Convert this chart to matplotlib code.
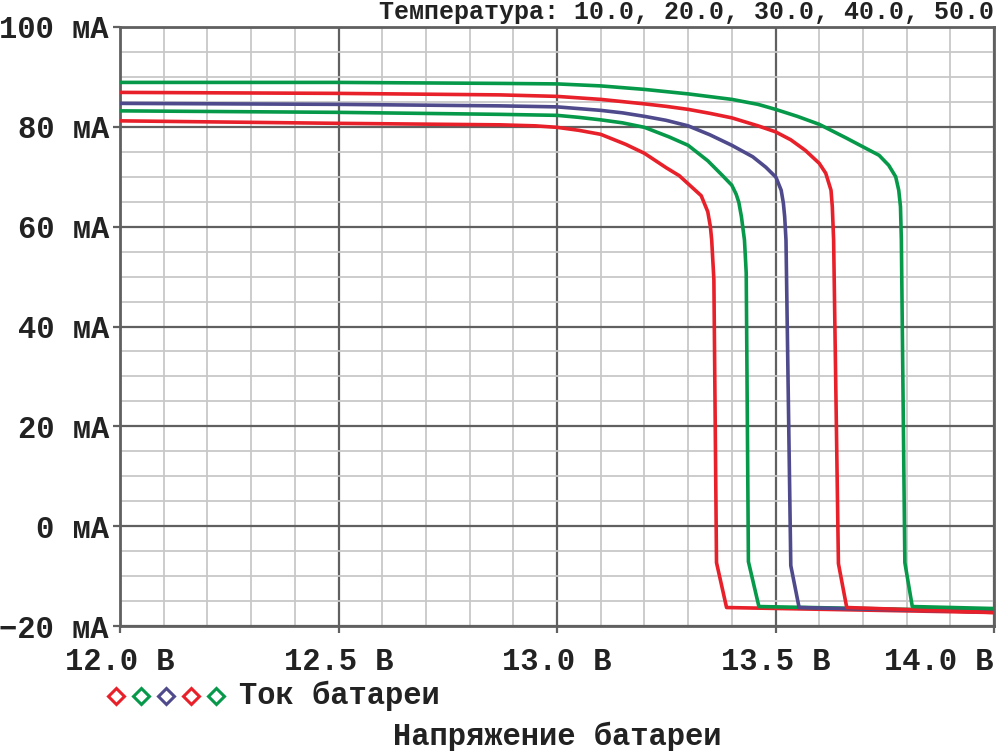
import matplotlib
matplotlib.use("Agg")
import matplotlib.pyplot as plt
from matplotlib.ticker import MultipleLocator, FixedLocator

plt.rcParams['font.family'] = ['Liberation Mono', 'DejaVu Sans Mono']

# ---- data ----
temperatures = [10.0, 20.0, 30.0, 40.0, 50.0]

v_t10 = [12.0, 12.5, 12.87, 12.95, 13.0, 13.05, 13.1, 13.157, 13.2, 13.25, 13.28, 13.305, 13.33, 13.345,
         13.351, 13.354, 13.359, 13.365, 13.388, 14.0]
i_t10 = [81.2, 80.7, 80.4, 80.2, 79.9, 79.3, 78.5, 76.5, 74.7, 71.8, 70.2, 68.2, 66.2, 63.0,
         60.0, 57.3, 49.4, -7.3, -16.3, -17.3]

v_t20 = [12.0, 12.5, 12.87, 13.0, 13.05, 13.1, 13.15, 13.2, 13.256, 13.3, 13.345, 13.378, 13.4, 13.41,
         13.416, 13.422, 13.426, 13.429, 13.433, 13.438, 13.462, 14.0]
i_t20 = [83.2, 82.9, 82.5, 82.3, 81.9, 81.4, 80.8, 79.9, 78.0, 76.3, 73.2, 70.3, 68.3, 66.5,
         64.9, 62.0, 59.3, 57.3, 50.7, -7.1, -16.1, -17.0]

v_t30 = [12.0, 12.5, 12.87, 13.0, 13.1, 13.15, 13.2, 13.25, 13.3, 13.35, 13.4, 13.448, 13.478, 13.501,
         13.513, 13.518, 13.521, 13.524, 13.535, 13.554, 14.0]
i_t30 = [84.7, 84.5, 84.2, 84.0, 83.3, 82.8, 82.1, 81.3, 80.2, 78.4, 76.3, 74.0, 71.9, 69.9,
         67.3, 64.7, 62.0, 57.3, -7.9, -16.3, -17.2]

v_t40 = [12.0, 12.5, 12.87, 13.0, 13.1, 13.2, 13.25, 13.3, 13.35, 13.4, 13.46, 13.5, 13.535, 13.568, 13.6,
         13.615, 13.627, 13.63, 13.633, 13.644, 13.663, 14.0]
i_t40 = [86.9, 86.7, 86.4, 86.1, 85.5, 84.6, 84.1, 83.5, 82.7, 81.8, 80.2, 79.0, 77.4, 75.3, 72.7,
         70.7, 67.3, 64.0, 57.3, -7.5, -16.3, -17.3]

v_t50 = [12.0, 12.5, 12.87, 13.0, 13.1, 13.2, 13.3, 13.4, 13.46, 13.5, 13.55, 13.6, 13.661,
         13.7, 13.737, 13.759, 13.775, 13.782, 13.786, 13.788, 13.796, 13.813, 14.0]
i_t50 = [88.9, 88.9, 88.7, 88.6, 88.2, 87.5, 86.6, 85.5, 84.5, 83.5, 82.1, 80.5, 77.8,
         76.0, 74.3, 72.3, 70.0, 67.3, 64.0, 57.3, -7.3, -16.1, -16.5]

x_ticks = [12.0, 12.5, 13.0, 13.5, 14.0]
x_tick_labels = ["12.0 В", "12.5 В", "13.0 В", "13.5 В", "14.0 В"]
y_ticks = [-20, 0, 20, 40, 60, 80, 100]
y_tick_labels = ["\u221220 мА", "0 мА", "20 мА", "40 мА", "60 мА", "80 мА", "100 мА"]

series_label = "Ток батареи"
x_label = "Напряжение батареи"
title_text = "Температура: " + ", ".join(f"{t:.1f}" for t in temperatures)

colors = ['#e8202a', '#07994a', '#4e4a8c', '#e8202a', '#07994a']

# ---- figure ----
W, H = 1000, 751
fig = plt.figure(figsize=(10, 7.51), dpi=100)
ax = fig.add_axes([120 / W, 1 - 626 / H, 874 / W, 599 / H])

curves = [(v_t10, i_t10), (v_t20, i_t20), (v_t30, i_t30), (v_t40, i_t40), (v_t50, i_t50)]
for (v, i), c in zip(curves, colors):
    ax.plot(v, i, color=c, lw=2.6, solid_joinstyle='round', solid_capstyle='round', zorder=3)

ax.set_xlim(12.0, 14.0)
ax.set_ylim(-20, 100)
ax.xaxis.set_major_locator(FixedLocator(x_ticks))
ax.yaxis.set_major_locator(FixedLocator(y_ticks))
ax.xaxis.set_minor_locator(MultipleLocator(0.1))
ax.yaxis.set_minor_locator(MultipleLocator(5))
ax.set_xticklabels(x_tick_labels)
ax.set_yticklabels(y_tick_labels)

ax.set_axisbelow(True)
ax.grid(which='minor', color='#c8c8c8', lw=1.3)
ax.grid(which='major', color='#606060', lw=1.6)
for s in ax.spines.values():
    s.set_color('#606060')
    s.set_linewidth(2.0)

ax.tick_params(which='major', direction='out', length=5, width=1.6, color='#606060',
               labelsize=22)
ax.tick_params(axis='x', which='major', pad=10)
ax.tick_params(axis='y', which='major', pad=3)
ax.tick_params(which='minor', length=0)
for lab in ax.get_xticklabels() + ax.get_yticklabels():
    lab.set_fontweight('bold')
    lab.set_color('#222222')
ax.get_xticklabels()[-1].set_horizontalalignment('right')

fig.text(994 / W, 1 - 12 / H, title_text, ha='right', va='center', fontsize=18,
         fontweight='bold', color='#222222')

# legend-like row
for k, c in enumerate(colors):
    ax.plot([(116 + 25 * k) / W], [1 - 696 / H], transform=fig.transFigure, clip_on=False,
            marker='D', ms=8.5, mfc='white', mec=c, mew=2.2, ls='')
fig.text(239 / W, 1 - 696 / H, series_label, ha='left', va='center', fontsize=22,
         fontweight='bold', color='#222222')

fig.text(557 / W, 1 - 737 / H, x_label, ha='center', va='center', fontsize=22,
         fontweight='bold', color='#222222')

fig.savefig('out.png', dpi=100, facecolor='white')
